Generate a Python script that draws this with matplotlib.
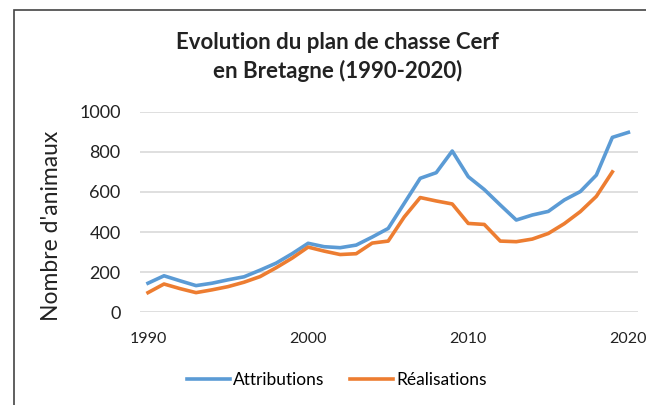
import matplotlib
matplotlib.use('Agg')
from matplotlib import pyplot as plt
from matplotlib.patches import Rectangle

# data
years = list(range(1990, 2021))
attributions = [145, 182, 157, 133, 145, 162, 177, 210, 245, 292,
                344, 327, 322, 335, 375, 418, 543, 668, 696, 804,
                676, 612, 535, 460, 485, 503, 560, 602, 684, 872, 897]
realisations = [98, 141, 118, 98, 112, 128, 150, 178, 222, 270,
                325, 305, 288, 292, 345, 355, 475, 572, 555, 540,
                443, 438, 355, 352, 365, 393, 442, 502, 578, 700]

plt.rcParams['font.family'] = ['Lato', 'DejaVu Sans']

fig = plt.figure(figsize=(6.46, 4.05), dpi=100)

# chart border (partly cut off like the reference)
fig.patches.append(Rectangle((14 / 646, -0.1), 1.0, 1 - 10 / 405 + 0.1,
                             transform=fig.transFigure, fill=False,
                             edgecolor='#444444', linewidth=1.2))

ax = fig.add_axes([0.2167, 0.2289, 0.7709, 0.4953])
ax.plot(years, attributions, color='#5B9BD5', linewidth=2.6,
        label='Attributions', solid_joinstyle='round')
ax.plot(years[:len(realisations)], realisations, color='#ED7D31',
        linewidth=2.6, label='Réalisations', solid_joinstyle='round')

ax.set_xlim(1989.5, 2020.6)
ax.set_ylim(0, 1000)
ax.set_xticks([1990, 2000, 2010, 2020])
ax.set_yticks(range(0, 1001, 200))
ax.grid(axis='y', color='#D9D9D9', linewidth=1.2)
ax.set_axisbelow(True)
for s in ax.spines.values():
    s.set_visible(False)
ax.tick_params(axis='x', length=0, labelsize=11.5, colors='#222222', pad=14)
ax.tick_params(axis='y', length=0, labelsize=13, colors='#222222', pad=14)
ax.set_ylabel("Nombre d'animaux", fontsize=16.5, color='#222222')
ax.yaxis.set_label_coords(-0.157, 0.43)

fig.text(0.523, 0.86, 'Evolution du plan de chasse Cerf\nen Bretagne (1990-2020)',
         ha='center', va='center', fontsize=16, fontweight='bold',
         linespacing=1.4, color='#222222')

fig.legend(loc='center', bbox_to_anchor=(0.521, 0.062), ncol=2, frameon=False,
           fontsize=12.5, handlelength=2.5, handletextpad=0.15,
           columnspacing=1.5)

plt.savefig('out.png', dpi=100)
